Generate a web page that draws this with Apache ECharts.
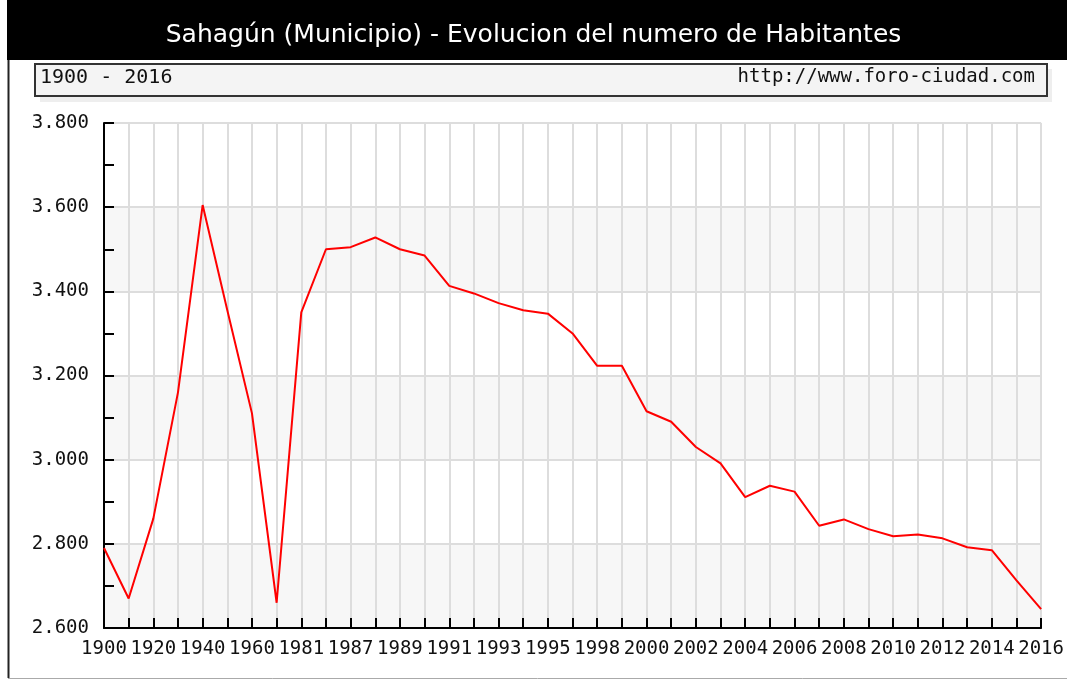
<!DOCTYPE html>
<html>
<head>
<meta charset="utf-8">
<script src="https://cdn.jsdelivr.net/npm/echarts@6/dist/echarts.min.js"></script>
<style>
html, body { margin: 0; padding: 0; background: #fff; }
#chart { width: 1067px; height: 680px; }
</style>
</head>
<body>
<div id="chart"></div>
<script>
var years = ['1900', '1910', '1920', '1930', '1940', '1950', '1960', '1970', '1981', '1986',
    '1987', '1988', '1989', '1990', '1991', '1992', '1993', '1994', '1995', '1996',
    '1998', '1999', '2000', '2001', '2002', '2003', '2004', '2005', '2006', '2007',
    '2008', '2009', '2010', '2011', '2012', '2013', '2014', '2015', '2016'];

var habitantes = [2790, 2670, 2860, 3160, 3605, 3355, 3110, 2660, 3350, 3500,
    3505, 3528, 3500, 3485, 3413, 3395, 3372, 3355, 3347, 3300,
    3223, 3223, 3115, 3090, 3030, 2991, 2911, 2938, 2924, 2843,
    2858, 2835, 2818, 2822, 2813, 2792, 2785, 2713, 2645];

var titulo = 'Sahagún (Municipio) - Evolucion del numero de Habitantes';
var periodo = '1900 - 2016';
var web = 'http://www.foro-ciudad.com';

var mono = '"DejaVu Sans Mono", monospace';

var myChart = echarts.init(document.getElementById('chart'));

var option = {
    animation: false,
    backgroundColor: '#fff',
    graphic: [
        { type: 'rect', shape: { x: 7, y: 0, width: 1060, height: 60 }, style: { fill: '#000' } },
        { type: 'text', left: 'center', top: 23, style: { text: titulo, fill: '#fff', font: '25px "DejaVu Sans", sans-serif' } },
        { type: 'line', shape: { x1: 8.5, y1: 60, x2: 8.5, y2: 678 }, style: { stroke: '#222', lineWidth: 2 } },
        { type: 'line', shape: { x1: 8, y1: 678.5, x2: 1067, y2: 678.5 }, style: { stroke: '#aaa', lineWidth: 1 } },
        { type: 'rect', shape: { x: 40, y: 69, width: 1012, height: 33 }, style: { fill: '#eeeeee' } },
        { type: 'rect', shape: { x: 35, y: 64, width: 1012, height: 32 }, style: { fill: '#f4f4f4', stroke: '#333', lineWidth: 2 } },
        { type: 'text', left: 40, top: 68, style: { text: periodo, fill: '#111', font: '20px ' + mono } },
        { type: 'text', right: 32, top: 68, style: { text: web, fill: '#111', font: '19px ' + mono } }
    ],
    grid: { left: 104, right: 25, top: 123, bottom: 52, containLabel: false },
    xAxis: {
        type: 'category',
        data: years,
        boundaryGap: false,
        axisLine: { lineStyle: { color: '#000', width: 2 } },
        axisTick: { show: true, inside: true, length: 10, interval: 0, lineStyle: { color: '#000', width: 2 } },
        axisLabel: { interval: 1, color: '#111', fontFamily: mono, fontSize: 19, margin: 12, hideOverlap: false },
        splitLine: { show: true, interval: 0, lineStyle: { color: '#dddddd', width: 2 } }
    },
    yAxis: {
        type: 'value',
        min: 2600,
        max: 3800,
        interval: 200,
        axisLine: { show: true, lineStyle: { color: '#000', width: 2 } },
        axisTick: { show: true, inside: true, length: 10, lineStyle: { color: '#000', width: 2 } },
        minorTick: { show: true, splitNumber: 2, length: 10, lineStyle: { color: '#000', width: 2 } },
        axisLabel: {
            color: '#111', fontFamily: mono, fontSize: 19, margin: 15,
            formatter: function (v) {
                return String(v).replace(/\B(?=(\d{3})+(?!\d))/g, '.');
            }
        },
        splitLine: { show: true, lineStyle: { color: '#dddddd', width: 2 } },
        splitArea: { show: true, areaStyle: { color: ['#f7f7f7', '#ffffff'] } }
    },
    series: [{
        type: 'line',
        data: habitantes,
        showSymbol: false,
        lineStyle: { color: '#ff0000', width: 2 },
        itemStyle: { color: '#ff0000' }
    }]
};

myChart.setOption(option);
</script>
</body>
</html>
